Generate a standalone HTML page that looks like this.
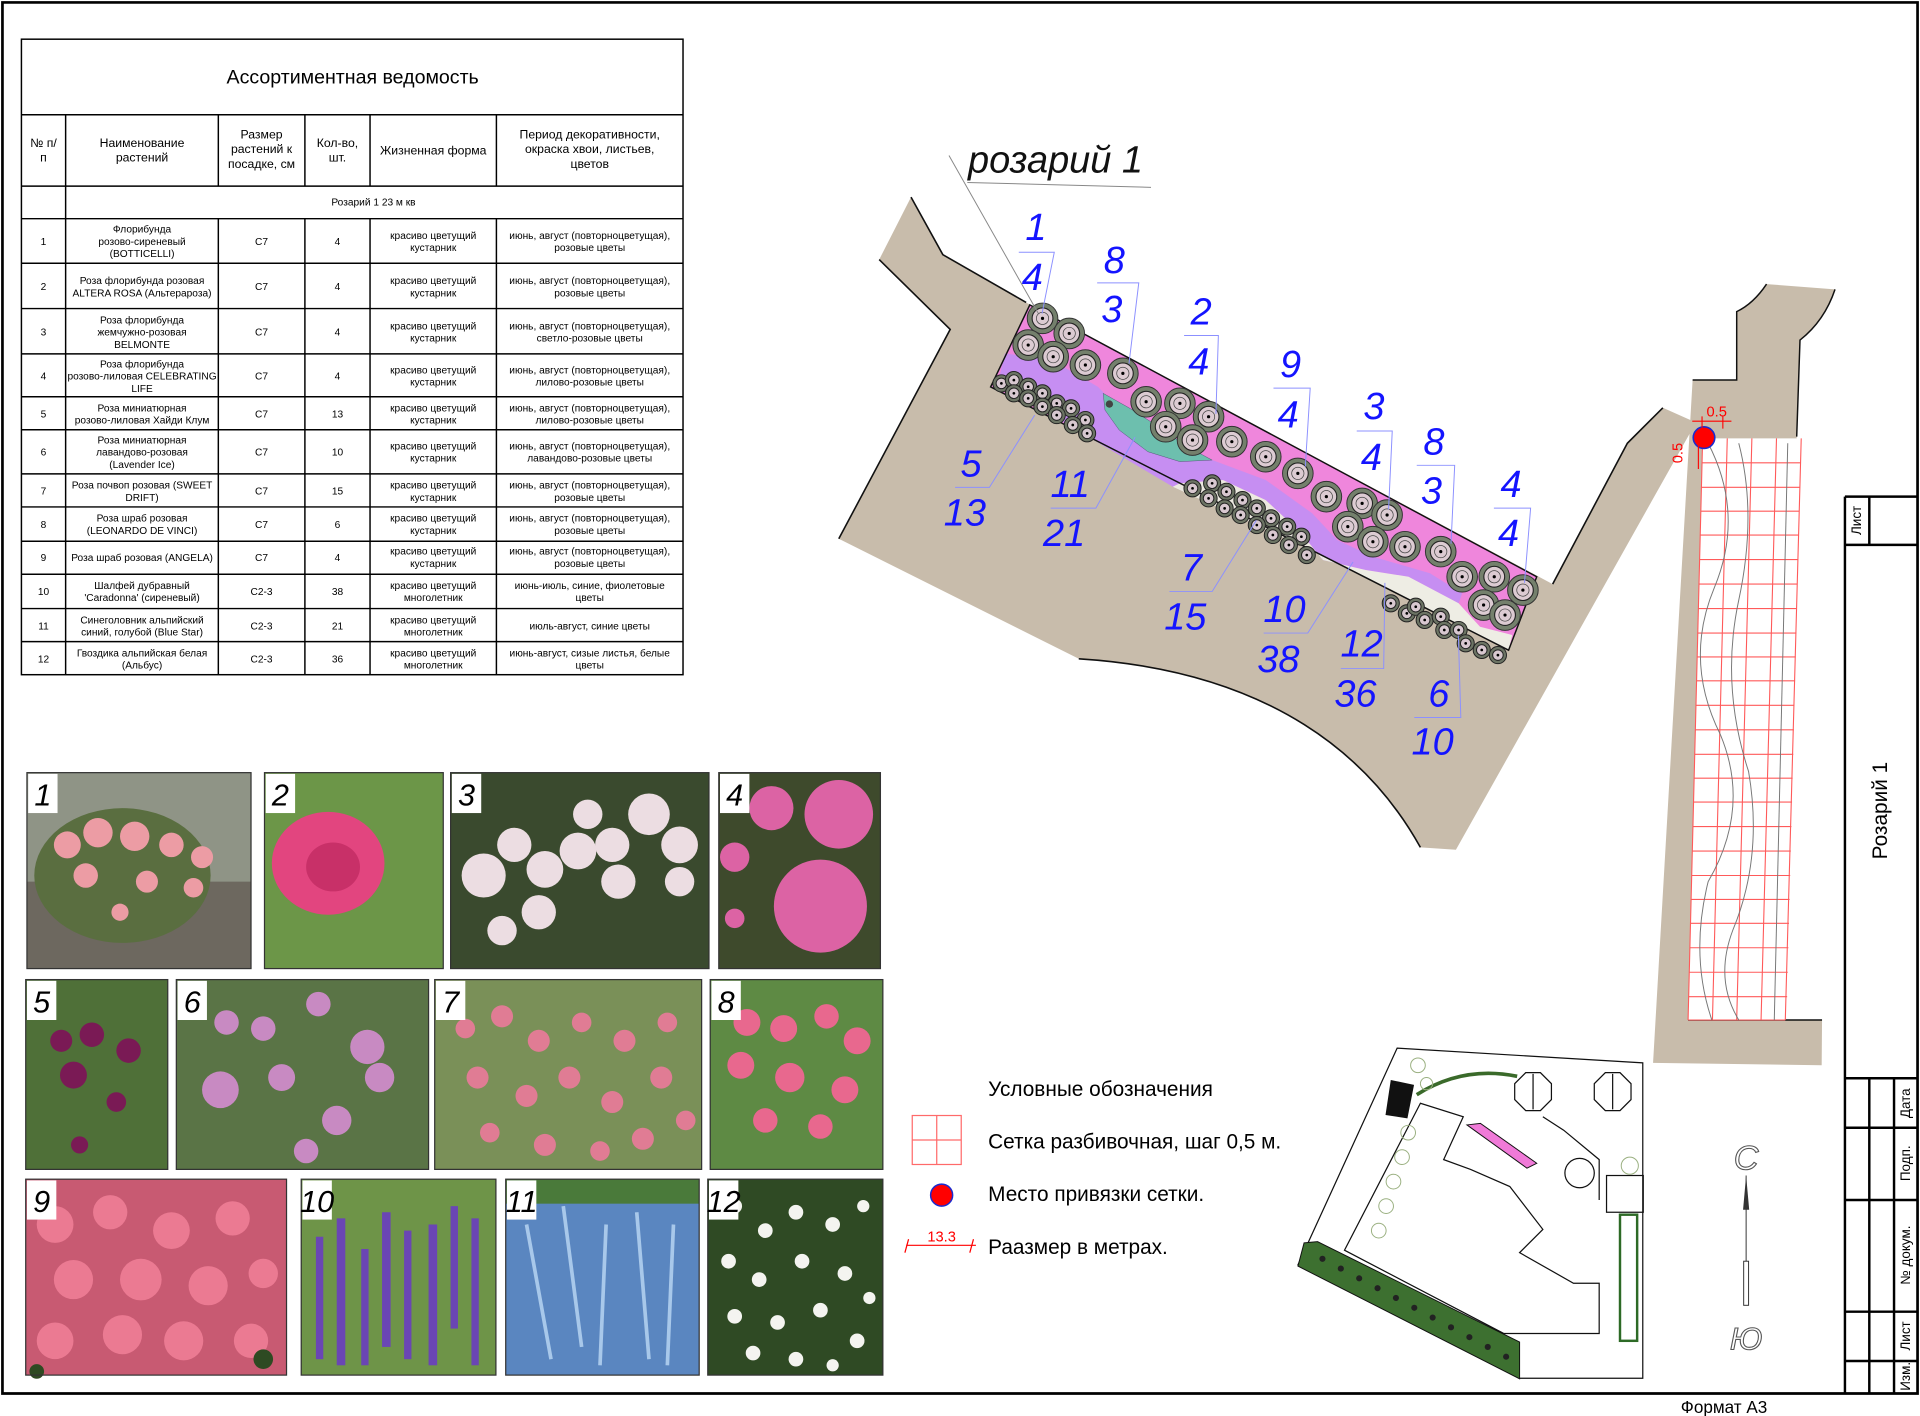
<!DOCTYPE html>
<html><head><meta charset="utf-8"><style>
html,body{margin:0;padding:0;background:#fff;}
svg{display:block;}
text{font-family:"Liberation Sans","DejaVu Sans",sans-serif;}
.n{font-family:"Liberation Sans Narrow","Liberation Sans",sans-serif;font-style:italic;fill:#1414ff;font-size:31px;text-anchor:middle;}
.pl{font-family:"Liberation Sans Narrow","Liberation Sans",sans-serif;font-style:italic;font-size:25px;fill:#000;text-anchor:middle;}
</style></head><body>
<svg width="1920" height="1416" viewBox="0 0 1568 1156.4" xmlns="http://www.w3.org/2000/svg">
<defs>
<g id="bs"><circle r="12.5" fill="#74806c" stroke="#333" stroke-width="0.8"/><circle r="8.5" fill="#dccbd2" stroke="#222" stroke-width="0.9"/><circle r="5" fill="none" stroke="#444" stroke-width="0.6"/><circle r="1.3" fill="#000"/></g>
<g id="ss"><circle r="7" fill="#6c7464" stroke="#222" stroke-width="0.8"/><circle r="4.3" fill="#d8c8d0" stroke="#222" stroke-width="0.8"/><circle r="1.1" fill="#000"/></g>
</defs>

<path d="M2,2 H1566 V1138 H2 Z" fill="none" stroke="#000" stroke-width="2.2"/>

<g stroke="#000" stroke-width="1.2" fill="none">
<rect x="17.5" y="32" width="540.3" height="519"/>
<line x1="17.5" y1="93.7" x2="557.8" y2="93.7"/>
<line x1="17.5" y1="152" x2="557.8" y2="152"/>
<line x1="17.5" y1="178.6" x2="557.8" y2="178.6"/>
<line x1="17.5" y1="215" x2="557.8" y2="215"/>
<line x1="17.5" y1="252" x2="557.8" y2="252"/>
<line x1="17.5" y1="289" x2="557.8" y2="289"/>
<line x1="17.5" y1="324" x2="557.8" y2="324"/>
<line x1="17.5" y1="351" x2="557.8" y2="351"/>
<line x1="17.5" y1="387" x2="557.8" y2="387"/>
<line x1="17.5" y1="414" x2="557.8" y2="414"/>
<line x1="17.5" y1="442" x2="557.8" y2="442"/>
<line x1="17.5" y1="469" x2="557.8" y2="469"/>
<line x1="17.5" y1="497" x2="557.8" y2="497"/>
<line x1="17.5" y1="524" x2="557.8" y2="524"/>
<line x1="53.6" y1="93.7" x2="53.6" y2="551"/>
<line x1="178.3" y1="93.7" x2="178.3" y2="152"/><line x1="178.3" y1="178.6" x2="178.3" y2="551"/>
<line x1="249" y1="93.7" x2="249" y2="152"/><line x1="249" y1="178.6" x2="249" y2="551"/>
<line x1="302.2" y1="93.7" x2="302.2" y2="152"/><line x1="302.2" y1="178.6" x2="302.2" y2="551"/>
<line x1="405.4" y1="93.7" x2="405.4" y2="152"/><line x1="405.4" y1="178.6" x2="405.4" y2="551"/>
</g>
<text x="288" y="68" font-size="16" text-anchor="middle">Ассортиментная ведомость</text>
<g font-size="10" text-anchor="middle">
<text x="35.5" y="120">№ п/</text><text x="35.5" y="132">п</text>
<text x="116" y="120">Наименование</text><text x="116" y="132">растений</text>
<text x="213.6" y="113">Размер</text><text x="213.6" y="125">растений к</text><text x="213.6" y="137">посадке, см</text>
<text x="275.6" y="120">Кол-во,</text><text x="275.6" y="132">шт.</text>
<text x="353.8" y="126">Жизненная форма</text>
<text x="481.6" y="113">Период декоративности,</text><text x="481.6" y="125">окраска хвои, листьев,</text><text x="481.6" y="137">цветов</text>
</g>
<g font-size="8.3" text-anchor="middle">
<text x="305" y="168">Розарий 1  23 м кв</text>
<text x="35.5" y="200">1</text><text x="116" y="190">Флорибунда</text><text x="116" y="200">розово-сиреневый</text><text x="116" y="210">(BOTTICELLI)</text>
<text x="213.6" y="200">C7</text><text x="275.6" y="200">4</text>
<text x="353.8" y="195">красиво цветущий</text><text x="353.8" y="205">кустарник</text>
<text x="481.6" y="195">июнь, август (повторноцветущая),</text><text x="481.6" y="205">розовые цветы</text>
<text x="35.5" y="237">2</text><text x="116" y="232">Роза флорибунда розовая</text><text x="116" y="242">ALTERA ROSA (Альтерароза)</text>
<text x="213.6" y="237">C7</text><text x="275.6" y="237">4</text>
<text x="353.8" y="232">красиво цветущий</text><text x="353.8" y="242">кустарник</text>
<text x="481.6" y="232">июнь, август (повторноцветущая),</text><text x="481.6" y="242">розовые цветы</text>
<text x="35.5" y="274">3</text><text x="116" y="264">Роза флорибунда</text><text x="116" y="274">жемчужно-розовая</text><text x="116" y="284">BELMONTE</text>
<text x="213.6" y="274">C7</text><text x="275.6" y="274">4</text>
<text x="353.8" y="269">красиво цветущий</text><text x="353.8" y="279">кустарник</text>
<text x="481.6" y="269">июнь, август (повторноцветущая),</text><text x="481.6" y="279">светло-розовые цветы</text>
<text x="35.5" y="310">4</text><text x="116" y="300">Роза флорибунда</text><text x="116" y="310">розово-лиловая CELEBRATING</text><text x="116" y="320">LIFE</text>
<text x="213.6" y="310">C7</text><text x="275.6" y="310">4</text>
<text x="353.8" y="305">красиво цветущий</text><text x="353.8" y="315">кустарник</text>
<text x="481.6" y="305">июнь, август (повторноцветущая),</text><text x="481.6" y="315">лилово-розовые цветы</text>
<text x="35.5" y="341">5</text><text x="116" y="336">Роза миниатюрная</text><text x="116" y="346">розово-лиловая Хайди Клум</text>
<text x="213.6" y="341">C7</text><text x="275.6" y="341">13</text>
<text x="353.8" y="336">красиво цветущий</text><text x="353.8" y="346">кустарник</text>
<text x="481.6" y="336">июнь, август (повторноцветущая),</text><text x="481.6" y="346">лилово-розовые цветы</text>
<text x="35.5" y="372">6</text><text x="116" y="362">Роза миниатюрная</text><text x="116" y="372">лавандово-розовая</text><text x="116" y="382">(Lavender Ice)</text>
<text x="213.6" y="372">C7</text><text x="275.6" y="372">10</text>
<text x="353.8" y="367">красиво цветущий</text><text x="353.8" y="377">кустарник</text>
<text x="481.6" y="367">июнь, август (повторноцветущая),</text><text x="481.6" y="377">лавандово-розовые цветы</text>
<text x="35.5" y="404">7</text><text x="116" y="399">Роза почвоп розовая  (SWEET</text><text x="116" y="409">DRIFT)</text>
<text x="213.6" y="404">C7</text><text x="275.6" y="404">15</text>
<text x="353.8" y="399">красиво цветущий</text><text x="353.8" y="409">кустарник</text>
<text x="481.6" y="399">июнь, август (повторноцветущая),</text><text x="481.6" y="409">розовые цветы</text>
<text x="35.5" y="431">8</text><text x="116" y="426">Роза шраб розовая</text><text x="116" y="436">(LEONARDO DE VINCI)</text>
<text x="213.6" y="431">C7</text><text x="275.6" y="431">6</text>
<text x="353.8" y="426">красиво цветущий</text><text x="353.8" y="436">кустарник</text>
<text x="481.6" y="426">июнь, август (повторноцветущая),</text><text x="481.6" y="436">розовые цветы</text>
<text x="35.5" y="458">9</text><text x="116" y="458">Роза шраб розовая  (ANGELA)</text>
<text x="213.6" y="458">C7</text><text x="275.6" y="458">4</text>
<text x="353.8" y="453">красиво цветущий</text><text x="353.8" y="463">кустарник</text>
<text x="481.6" y="453">июнь, август (повторноцветущая),</text><text x="481.6" y="463">розовые цветы</text>
<text x="35.5" y="486">10</text><text x="116" y="481">Шалфей дубравный</text><text x="116" y="491">'Caradonna' (сиреневый)</text>
<text x="213.6" y="486">C2-3</text><text x="275.6" y="486">38</text>
<text x="353.8" y="481">красиво цветущий</text><text x="353.8" y="491">многолетник</text>
<text x="481.6" y="481">июнь-июль, синие, фиолетовые</text><text x="481.6" y="491">цветы</text>
<text x="35.5" y="514">11</text><text x="116" y="509">Синеголовник альпийский</text><text x="116" y="519">синий, голубой (Blue Star)</text>
<text x="213.6" y="514">C2-3</text><text x="275.6" y="514">21</text>
<text x="353.8" y="509">красиво цветущий</text><text x="353.8" y="519">многолетник</text>
<text x="481.6" y="514">июль-август, синие цветы</text>
<text x="35.5" y="541">12</text><text x="116" y="536">Гвоздика альпийская белая</text><text x="116" y="546">(Альбус)</text>
<text x="213.6" y="541">C2-3</text><text x="275.6" y="541">36</text>
<text x="353.8" y="536">красиво цветущий</text><text x="353.8" y="546">многолетник</text>
<text x="481.6" y="536">июнь-август, сизые листья, белые</text><text x="481.6" y="546">цветы</text>
</g>

<path d="M744,161 L770,208 L838,247 L1268,477 L1329,362 L1358,333 L1385,345 L1189,694 L1160,692 C1120,620 1040,548 881,538 L685,440 L776,269 L718,212 Z" fill="#c8bcab"/>
<path d="M744,161 L770,208 L838,247 M1268,477 L1329,362 L1358,333 M1160,692 C1120,620 1040,548 881,538 M685,440 L776,269 L718,212" fill="none" stroke="#111" stroke-width="1.3"/>
<path d="M841,249 L1255,471 L1232,531 L809,316 Z" fill="#ef86dc"/>
<path d="M820.7,288.6 L858.6,294 L896.6,315.8 L922.8,343 L952,364.8 L989.9,375.7 L1033.7,392 L1071.6,419.2 L1092,441 L1121.2,454.6 L1167.8,468.2 L1194.1,484.6 L1191.2,492.7 L1150.3,471 L1115.3,465.5 L1080.3,457.3 L1062.8,435.6 L1033.7,408.4 L998.7,392 L963.6,394.7 L957.8,397.5 L814.9,313.1 Z" fill="#c68ef2"/>
<path d="M957.8,397.5 L963.6,394.7 L998.7,392 L1033.7,408.4 L1062.8,435.6 L1080.3,457.3 L1080,453.5 Z" fill="#ece9e0"/>
<path d="M1080,453.5 L1080.3,457.3 L1115.3,465.5 L1150.3,471 L1191.2,492.7 L1208.7,511.8 L1235,518.6 L1232,531 Z" fill="#eeede4"/>
<path d="M900.9,321.2 L922.8,333.5 L946.2,348.5 L969.5,364.8 L989.9,375.7 L963.6,377 L937.4,368.9 L914,351.2 L902.4,334.9 Z" fill="#6dbfae" stroke="#557" stroke-width="0.4"/>
<path d="M841,249 L1255,471 L1232,531 L809,316 Z" fill="none" stroke="#111" stroke-width="1.2"/>
<circle cx="906" cy="330" r="3" fill="#444"/>
<g>
<use href="#bs" x="851.4" y="260"/><use href="#bs" x="873.2" y="272.3"/><use href="#bs" x="839.7" y="281.8"/><use href="#bs" x="860.1" y="291.3"/><use href="#bs" x="886.4" y="298.1"/><use href="#bs" x="917" y="304.9"/><use href="#bs" x="936" y="328.1"/><use href="#bs" x="963.6" y="329.4"/><use href="#bs" x="952" y="348.5"/><use href="#bs" x="987" y="340.3"/><use href="#bs" x="973.9" y="359.4"/><use href="#bs" x="1006" y="360.7"/><use href="#bs" x="1033.7" y="373"/><use href="#bs" x="1059.9" y="386.6"/><use href="#bs" x="1083.2" y="405.6"/><use href="#bs" x="1112.4" y="411.1"/><use href="#bs" x="1100.7" y="430.1"/><use href="#bs" x="1132.8" y="420.6"/><use href="#bs" x="1121.2" y="442.4"/><use href="#bs" x="1147.4" y="446.5"/><use href="#bs" x="1176.6" y="450.5"/><use href="#bs" x="1194.1" y="471"/><use href="#bs" x="1220.3" y="471"/><use href="#bs" x="1243.7" y="481.9"/><use href="#bs" x="1211.6" y="494.1"/><use href="#bs" x="1229.1" y="502.3"/>
</g>
<g>
<use href="#ss" x="817.8" y="313.1"/><use href="#ss" x="828" y="310.4"/><use href="#ss" x="839.7" y="315.8"/><use href="#ss" x="851.3" y="321.2"/><use href="#ss" x="863" y="329.4"/><use href="#ss" x="874.7" y="333.5"/><use href="#ss" x="886.4" y="343"/><use href="#ss" x="828" y="321.2"/><use href="#ss" x="839.7" y="325.3"/><use href="#ss" x="851.3" y="332.1"/><use href="#ss" x="863" y="339"/><use href="#ss" x="876.1" y="347.1"/><use href="#ss" x="887.8" y="353.9"/>
<use href="#ss" x="973.9" y="398.8"/><use href="#ss" x="989.9" y="394.7"/><use href="#ss" x="1001.6" y="401.6"/><use href="#ss" x="1014.7" y="408.4"/><use href="#ss" x="1026.4" y="415.2"/><use href="#ss" x="1038" y="423.3"/><use href="#ss" x="1051.2" y="430.1"/><use href="#ss" x="1062.8" y="438.3"/><use href="#ss" x="987" y="407"/><use href="#ss" x="1000.1" y="415.2"/><use href="#ss" x="1013.2" y="420.6"/><use href="#ss" x="1026.4" y="428.8"/><use href="#ss" x="1039.5" y="436.9"/><use href="#ss" x="1052.6" y="445.1"/><use href="#ss" x="1067.2" y="453.3"/>
<use href="#ss" x="1135.8" y="492.7"/><use href="#ss" x="1148.9" y="500.9"/><use href="#ss" x="1156.2" y="495.5"/><use href="#ss" x="1163.5" y="506.3"/><use href="#ss" x="1176.6" y="503.6"/><use href="#ss" x="1179.5" y="514.5"/><use href="#ss" x="1191.2" y="514.5"/><use href="#ss" x="1197" y="525.4"/><use href="#ss" x="1210.1" y="530.8"/><use href="#ss" x="1223.3" y="535"/>
</g>

<text x="862" y="141" font-size="31" font-style="italic" text-anchor="middle" fill="#111" font-family="Liberation Sans Narrow, Liberation Sans, sans-serif">розарий 1</text>
<path d="M775,127 L848,256 M790,149 L940,153" stroke="#888" stroke-width="0.8" fill="none"/>

<g stroke="#8c90ff" stroke-width="0.8" fill="none">
<path d="M832,206 H861 L851,256"/>
<path d="M896,231 H930 L922,297"/>
<path d="M967,274 H995 L993,338"/>
<path d="M1040,317 H1070 L1066,381"/>
<path d="M1108,352 H1137 L1134,416"/>
<path d="M1157,380 H1188 L1185,444"/>
<path d="M1220,415 H1250 L1245,476"/>
<path d="M780,398 H808 L845,339"/>
<path d="M858,415 H895 L927,357"/>
<path d="M955,483 H990 L1026,425"/>
<path d="M1032,517 H1068 L1105,459"/>
<path d="M1095,546 H1130 L1131,476"/>
<path d="M1155,586 H1193 L1191,519"/>
</g>
<g class="n">
<text class="n" x="846" y="196">1</text><text class="n" x="843" y="237">4</text>
<text class="n" x="910" y="223">8</text><text class="n" x="908" y="263">3</text>
<text class="n" x="981" y="265">2</text><text class="n" x="979" y="306">4</text>
<text class="n" x="1054" y="308">9</text><text class="n" x="1052" y="349">4</text>
<text class="n" x="1122" y="342">3</text><text class="n" x="1120" y="384">4</text>
<text class="n" x="1171" y="371">8</text><text class="n" x="1169" y="411">3</text>
<text class="n" x="1234" y="406">4</text><text class="n" x="1232" y="446">4</text>
<text class="n" x="793" y="389">5</text><text class="n" x="788" y="429">13</text>
<text class="n" x="874" y="406">11</text><text class="n" x="869" y="446">21</text>
<text class="n" x="973" y="474">7</text><text class="n" x="968" y="514">15</text>
<text class="n" x="1049" y="508">10</text><text class="n" x="1044" y="549">38</text>
<text class="n" x="1112" y="536">12</text><text class="n" x="1107" y="577">36</text>
<text class="n" x="1175" y="577">6</text><text class="n" x="1170" y="616">10</text>
</g>

<path d="M1442.7,232 L1498.6,236.3 Q1490,262 1470,277.7 L1467.3,356.6 L1458,833 L1488,833 L1487.7,870 L1350,868 L1382.3,310.3 L1418.3,310.3 L1418.3,254.5 Q1432,248 1442.7,232 Z" fill="#c8bcab"/>
<path d="M1498.6,236.3 Q1490,262 1470,277.7 L1467.3,356.6 M1378.6,833 L1488,833 M1382.3,310.3 L1418.3,310.3 L1418.3,254.5 Q1432,248 1442.7,232" fill="none" stroke="#111" stroke-width="1.2"/>
<path d="M1390.5,358 L1471,358 L1458,833 L1378.6,833 Z" fill="#fff"/>
<g stroke="#ff5a5a" stroke-width="0.9" fill="none">
<path d="M1390.5,358 L1378.6,833 M1410.6,358 L1398.5,833 M1430.7,358 L1418.3,833 M1450.8,358 L1438.2,833 M1471,358 L1458,833"/>
<path d="M1390,378 H1470.5 M1389.5,398 H1470 M1389,417.5 H1469.5 M1388.5,437 H1469 M1388,457 H1468.5 M1387.5,477 H1468 M1387,497 H1467.5 M1386.5,517 H1467 M1386,536.5 H1466.5 M1385.5,556 H1466 M1385,576 H1465.5 M1384.5,596 H1465 M1384,616 H1464.5 M1383.5,635.5 H1464 M1383,655 H1463.5 M1382.5,675 H1463 M1382,695 H1462.5 M1381.5,715 H1462 M1381,734.5 H1461.5 M1380.5,754 H1461 M1380,774 H1460.5 M1379.5,794 H1460 M1379,814 H1459.5 M1378.6,833 H1458"/>
</g>
<g stroke="#777" stroke-width="0.8" fill="none">
<path d="M1395,362 Q1425,420 1400,480 Q1375,540 1405,600 Q1430,660 1395,720 Q1380,780 1398,833"/>
<path d="M1420,362 Q1435,420 1420,490 Q1405,560 1428,630 Q1440,700 1415,760 Q1400,800 1420,833"/>
<path d="M1460,362 L1449,833"/>
</g>
<circle cx="1391.6" cy="357.4" r="8.8" fill="#f00" stroke="#1a2ad0" stroke-width="1.3"/>
<g stroke="#f00" stroke-width="0.9" fill="none"><path d="M1382,344 H1414 M1390,340 V350 M1407,340 V350 M1387,357 V383"/></g>
<text x="1402" y="340" font-size="12" fill="#f00" text-anchor="middle">0.5</text>
<text x="1374" y="370" font-size="12" fill="#f00" text-anchor="middle" transform="rotate(-90 1374 370)">0.5</text>

<g stroke="#000" stroke-width="2" fill="none">
<path d="M1506.7,405.6 V1138 M1506.7,405.6 H1565.5 M1506.7,445 H1565.5 M1526.6,405.6 V445"/>
<path d="M1506.7,880.6 H1565.5 M1506.7,921 H1565.5 M1506.7,980 H1565.5 M1506.7,1071.2 H1565.5 M1506.7,1111.5 H1565.5 M1526.6,880.6 V1138 M1546.8,880.6 V1138"/>
</g>
<g font-size="11" text-anchor="middle">
<text transform="translate(1520,425) rotate(-90)">Лист</text>
<text transform="translate(1560,901) rotate(-90)">Дата</text>
<text transform="translate(1560,950) rotate(-90)">Подп.</text>
<text transform="translate(1560,1025) rotate(-90)">№ докум.</text>
<text transform="translate(1560,1091) rotate(-90)">Лист</text>
<text transform="translate(1560,1124) rotate(-90)">Изм.</text>
</g>
<text transform="translate(1541,662) rotate(-90)" font-size="17" text-anchor="middle">Розарий 1</text>
<text x="1408" y="1154" font-size="14" text-anchor="middle">Формат А3</text>

<text x="1426" y="955" font-size="28" text-anchor="middle" font-family="Liberation Serif, serif" font-style="italic" fill="#fff" stroke="#555" stroke-width="0.9">С</text>
<path d="M1426,960 V1066" stroke="#333" stroke-width="0.8"/>
<path d="M1423.5,988 L1426,960 L1428.5,988 Z" fill="#333"/>
<rect x="1424" y="1030" width="4" height="36" fill="#fff" stroke="#333" stroke-width="0.8"/>
<text x="1426" y="1102" font-size="26" text-anchor="middle" font-family="Liberation Serif, serif" font-style="italic" fill="#fff" stroke="#555" stroke-width="0.9">Ю</text>

<g font-family="Liberation Sans Narrow, Liberation Sans, sans-serif" font-size="17">
<text x="807" y="895">Условные обозначения</text>
<text x="807" y="938">Сетка разбивочная, шаг 0,5 м.</text>
<text x="807" y="981">Место привязки сетки.</text>
<text x="807" y="1024">Раазмер в метрах.</text>
</g>
<g stroke="#ff6a6a" stroke-width="1" fill="none"><rect x="745" y="911" width="40" height="40"/><path d="M765,911 V951 M745,931 H785"/></g>
<circle cx="769" cy="976" r="9" fill="#f00" stroke="#1a2ad0" stroke-width="1.2"/>
<path d="M740,1017 H797 M742,1012 L739,1023 M795,1012 L792,1023" stroke="#f00" stroke-width="1" fill="none"/>
<text x="769" y="1014" font-size="12" fill="#f00" text-anchor="middle">13.3</text>

<g fill="none" stroke="#111" stroke-width="1">
<path d="M1141,856 L1341.6,868 L1341.6,1125.6 L1241.4,1125.6 L1060,1033 Z" fill="#fff"/>
<path d="M1160,901 L1098,1021 L1228,1089 L1306,1089 L1306,1048 L1285,1048 L1241,1023 L1260,1004 L1233,969 L1201,955 L1179,947 L1195,912 Z"/>
<path d="M1260,912 L1277,923 L1306,947 L1306,980 M1252,906 L1252,877 M1317,906 L1317,877"/>
<polygon points="1246,876 1258,876 1267,885 1267,898 1258,907 1246,907 1237,898 1237,885"/>
<polygon points="1311,876 1323,876 1332,885 1332,898 1323,907 1311,907 1302,898 1302,885"/>
<circle cx="1290" cy="958" r="12"/>
<rect x="1312" y="960" width="30" height="30"/>
</g>
<path d="M1198,918.7 L1209,917.4 L1255,950 L1247,954 Z" fill="#f07ad8" stroke="#111" stroke-width="0.8"/>
<path d="M1135.8,882 L1154.8,886 L1149.4,913.3 L1131.5,910.6 Z" fill="#111"/>
<path d="M1157,894 Q1195,870 1239,879" stroke="#3a6a2a" stroke-width="3" fill="none"/>
<path d="M1065,1015 L1076,1014 L1241,1096 L1241,1126 L1060,1034 Z" fill="#3d7030" stroke="#111" stroke-width="0.8"/>
<g fill="#222">
<circle cx="1080" cy="1028" r="2.5"/><circle cx="1095" cy="1036" r="2.5"/><circle cx="1110" cy="1044" r="2.5"/><circle cx="1125" cy="1052" r="2.5"/><circle cx="1140" cy="1060" r="2.5"/><circle cx="1155" cy="1068" r="2.5"/><circle cx="1170" cy="1076" r="2.5"/><circle cx="1185" cy="1084" r="2.5"/><circle cx="1200" cy="1092" r="2.5"/><circle cx="1215" cy="1100" r="2.5"/><circle cx="1230" cy="1108" r="2.5"/>
</g>
<rect x="1323" y="992" width="14" height="103" fill="#fff" stroke="#2d6a26" stroke-width="2"/>
<g fill="none" stroke="#9ab080" stroke-width="0.8">
<circle cx="1150" cy="925" r="6"/><circle cx="1145" cy="945" r="6"/><circle cx="1138" cy="965" r="6"/><circle cx="1132" cy="985" r="6"/><circle cx="1126" cy="1005" r="6"/><circle cx="1158" cy="870" r="6"/><circle cx="1165" cy="885" r="5"/><circle cx="1331" cy="952" r="7"/>
</g>

<g>
<rect x="22" y="631" width="183" height="160" fill="#8f9486"/>
<rect x="22" y="720" width="183" height="71" fill="#6d685f"/>
<ellipse cx="100" cy="715" rx="72" ry="55" fill="#5a6e40"/>
<g fill="#ec9ca4"><circle cx="55" cy="690" r="11"/><circle cx="80" cy="680" r="12"/><circle cx="110" cy="683" r="12"/><circle cx="140" cy="690" r="10"/><circle cx="165" cy="700" r="9"/><circle cx="70" cy="715" r="10"/><circle cx="120" cy="720" r="9"/><circle cx="158" cy="725" r="8"/><circle cx="98" cy="745" r="7"/></g>
<rect x="216" y="631" width="146" height="160" fill="#6c9648"/>
<ellipse cx="268" cy="705" rx="46" ry="42" fill="#e2457f"/><ellipse cx="272" cy="708" rx="22" ry="20" fill="#c83068"/>
<rect x="368" y="631" width="211" height="160" fill="#3a4a2e"/>
<g fill="#ecdde2"><circle cx="395" cy="715" r="18"/><circle cx="420" cy="690" r="14"/><circle cx="445" cy="710" r="15"/><circle cx="472" cy="695" r="15"/><circle cx="500" cy="690" r="14"/><circle cx="530" cy="665" r="17"/><circle cx="555" cy="690" r="15"/><circle cx="505" cy="720" r="14"/><circle cx="440" cy="745" r="14"/><circle cx="410" cy="760" r="12"/><circle cx="480" cy="665" r="12"/><circle cx="555" cy="720" r="12"/></g>
<rect x="587" y="631" width="132" height="160" fill="#3e4a2c"/>
<g fill="#dc63a4"><circle cx="630" cy="660" r="18"/><circle cx="685" cy="665" r="28"/><circle cx="670" cy="740" r="38"/><circle cx="600" cy="700" r="12"/><circle cx="600" cy="750" r="8"/></g>
<rect x="21" y="800" width="116" height="155" fill="#4f7038"/>
<g fill="#7a1a55"><circle cx="50" cy="850" r="9"/><circle cx="75" cy="845" r="10"/><circle cx="60" cy="878" r="11"/><circle cx="105" cy="858" r="10"/><circle cx="95" cy="900" r="8"/><circle cx="65" cy="935" r="7"/></g>
<rect x="144" y="800" width="206" height="155" fill="#5a7446"/>
<g fill="#c88ac2"><circle cx="185" cy="835" r="10"/><circle cx="215" cy="840" r="10"/><circle cx="260" cy="820" r="10"/><circle cx="300" cy="855" r="14"/><circle cx="310" cy="880" r="12"/><circle cx="180" cy="890" r="15"/><circle cx="230" cy="880" r="11"/><circle cx="275" cy="915" r="12"/><circle cx="250" cy="940" r="10"/></g>
<rect x="355" y="800" width="218" height="155" fill="#7a9058"/>
<g fill="#e07c94"><circle cx="380" cy="840" r="8"/><circle cx="410" cy="830" r="9"/><circle cx="440" cy="850" r="9"/><circle cx="475" cy="835" r="8"/><circle cx="510" cy="850" r="9"/><circle cx="545" cy="835" r="8"/><circle cx="390" cy="880" r="9"/><circle cx="430" cy="895" r="9"/><circle cx="465" cy="880" r="9"/><circle cx="500" cy="900" r="9"/><circle cx="540" cy="880" r="9"/><circle cx="560" cy="915" r="8"/><circle cx="400" cy="925" r="8"/><circle cx="445" cy="935" r="9"/><circle cx="490" cy="940" r="8"/><circle cx="525" cy="930" r="9"/></g>
<rect x="580" y="800" width="141" height="155" fill="#5e8a44"/>
<g fill="#e8688e"><circle cx="610" cy="835" r="11"/><circle cx="640" cy="840" r="11"/><circle cx="675" cy="830" r="10"/><circle cx="700" cy="850" r="11"/><circle cx="605" cy="870" r="11"/><circle cx="645" cy="880" r="12"/><circle cx="690" cy="890" r="11"/><circle cx="625" cy="915" r="10"/><circle cx="670" cy="920" r="10"/></g>
<rect x="21" y="963" width="213" height="160" fill="#c85a72"/>
<g fill="#eb7a92"><circle cx="45" cy="1000" r="15"/><circle cx="90" cy="990" r="14"/><circle cx="140" cy="1005" r="15"/><circle cx="190" cy="995" r="14"/><circle cx="60" cy="1045" r="16"/><circle cx="115" cy="1045" r="17"/><circle cx="170" cy="1050" r="16"/><circle cx="215" cy="1040" r="12"/><circle cx="45" cy="1095" r="15"/><circle cx="100" cy="1090" r="16"/><circle cx="150" cy="1095" r="16"/><circle cx="205" cy="1095" r="14"/></g>
<g fill="#2e4a22"><circle cx="215" cy="1110" r="8"/><circle cx="30" cy="1120" r="6"/></g>
<rect x="246" y="963" width="159" height="160" fill="#6e9448"/>
<g fill="#6a46b4"><rect x="258" y="1010" width="6" height="100"/><rect x="275" y="995" width="7" height="120"/><rect x="295" y="1020" width="6" height="95"/><rect x="312" y="990" width="7" height="110"/><rect x="330" y="1005" width="6" height="105"/><rect x="350" y="1000" width="7" height="115"/><rect x="368" y="985" width="6" height="100"/><rect x="385" y="995" width="6" height="120"/></g>
<rect x="413" y="963" width="158" height="160" fill="#5a86c0"/>
<g stroke="#a8c8ea" stroke-width="3" fill="none"><path d="M430,1000 L450,1110 M460,985 L475,1100 M495,1000 L490,1115 M520,990 L530,1110 M550,1000 L545,1115"/></g>
<rect x="413" y="963" width="158" height="20" fill="#4a7a3a"/>
<rect x="578" y="963" width="143" height="160" fill="#2f4a24"/>
<g fill="#f4f4f0"><circle cx="600" cy="985" r="6"/><circle cx="625" cy="1005" r="6"/><circle cx="650" cy="990" r="6"/><circle cx="680" cy="1000" r="6"/><circle cx="705" cy="985" r="5"/><circle cx="595" cy="1030" r="6"/><circle cx="620" cy="1045" r="6"/><circle cx="655" cy="1030" r="6"/><circle cx="690" cy="1040" r="6"/><circle cx="710" cy="1060" r="5"/><circle cx="600" cy="1075" r="6"/><circle cx="635" cy="1080" r="6"/><circle cx="670" cy="1070" r="6"/><circle cx="700" cy="1095" r="6"/><circle cx="615" cy="1105" r="6"/><circle cx="650" cy="1110" r="6"/><circle cx="680" cy="1115" r="5"/></g>
</g>
<g stroke="#333" stroke-width="1" fill="none">
<rect x="22" y="631" width="183" height="160"/><rect x="216" y="631" width="146" height="160"/><rect x="368" y="631" width="211" height="160"/><rect x="587" y="631" width="132" height="160"/>
<rect x="21" y="800" width="116" height="155"/><rect x="144" y="800" width="206" height="155"/><rect x="355" y="800" width="218" height="155"/><rect x="580" y="800" width="141" height="155"/>
<rect x="21" y="963" width="213" height="160"/><rect x="246" y="963" width="159" height="160"/><rect x="413" y="963" width="158" height="160"/><rect x="578" y="963" width="143" height="160"/>
</g>
<g fill="#fff">
<rect x="23" y="632" width="24" height="32"/><rect x="217" y="632" width="24" height="32"/><rect x="369" y="632" width="24" height="32"/><rect x="588" y="632" width="24" height="32"/>
<rect x="22" y="801" width="24" height="32"/><rect x="145" y="801" width="24" height="32"/><rect x="356" y="801" width="24" height="32"/><rect x="581" y="801" width="24" height="32"/>
<rect x="22" y="964" width="24" height="32"/><rect x="247" y="964" width="24" height="32"/><rect x="414" y="964" width="24" height="32"/><rect x="579" y="964" width="24" height="32"/>
</g>
<g class="pl">
<text class="pl" x="35" y="658">1</text><text class="pl" x="229" y="658">2</text><text class="pl" x="381" y="658">3</text><text class="pl" x="600" y="658">4</text>
<text class="pl" x="34" y="827">5</text><text class="pl" x="157" y="827">6</text><text class="pl" x="368" y="827">7</text><text class="pl" x="593" y="827">8</text>
<text class="pl" x="34" y="990">9</text><text class="pl" x="259" y="990">10</text><text class="pl" x="426" y="990">11</text><text class="pl" x="591" y="990">12</text>
</g>
</svg>
</body></html>
